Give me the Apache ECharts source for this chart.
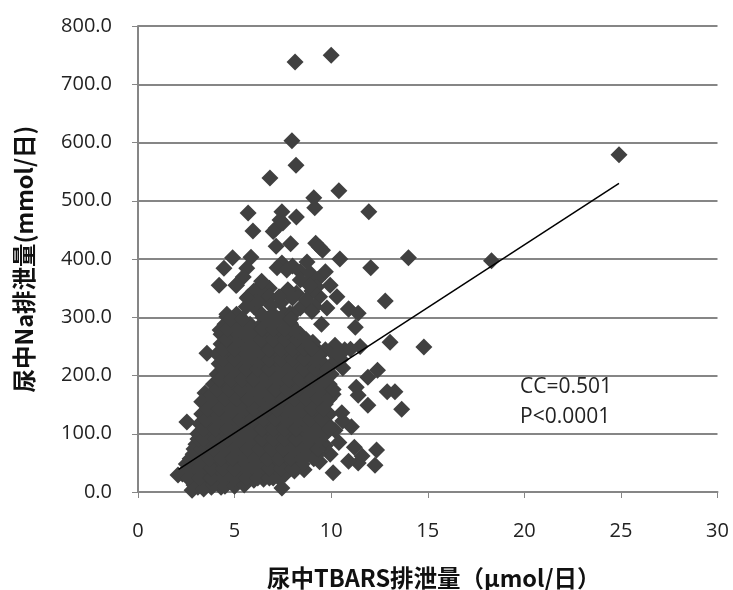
<!DOCTYPE html>
<html>
<head>
<meta charset="utf-8">
<script src="https://cdn.jsdelivr.net/npm/echarts@6/dist/echarts.min.js"></script>
<style>html,body{margin:0;padding:0;background:#fff}#c{width:733px;height:590px}</style>
</head>
<body>
<div id="c"></div>
<script>
const xAxisTitle = '尿中TBARS排泄量（μmol/日）';
const yAxisTitle = '尿中Na排泄量(mmol/日)';
const notes = ['CC=0.501', 'P<0.0001'];
const trendLine = [[2.1, 39], [24.9, 530]];

const outliers = [
  [8.13,738],[10.0,750],[7.97,603],[8.18,561],[6.83,539],[10.4,517],[9.1,505],[9.15,488],
  [11.95,481],[5.7,479],[7.45,481],[8.2,472],[5.95,448],[7.35,467],[7.15,453],[7.5,462],[7.0,447],
  [7.15,422],[7.9,426],[9.2,427],[9.55,415],[9.4,420],[10.45,400],[14.0,402],[18.3,397],[24.9,579],
  [12.05,385],[12.8,328],[14.8,249],[13.05,257],[12.9,172],[13.3,172],[13.65,142],[11.9,197],[12.4,209],
  [11.3,180],[11.4,166],[11.9,149],[10.9,314],[11.4,307],[11.25,283],[9.5,288],[11.5,250],[7.45,7]
];
const upperCluster = [
  [4.9,402],[4.45,384],[4.2,355],[5.07,355],[5.85,403],[5.63,384],[5.45,369],[6.3,352],[6.8,350],[5.7,335],
  [6.6,337],[7.45,393],[7.2,385],[7.7,381],[8.0,388],[8.75,395],[8.4,378],[8.9,376],[9.7,378],[9.3,365],[9.95,355],
  [7.87,343],[8.2,341],[9.4,335],[10.3,335],[8.4,364],[8.75,359],[9.25,352],[9.0,345],
  [5.1,355],[6.0,345],[7.76,347],[8.4,316],[9.16,318],[9.78,316],[8.0,333],[6.3,333],[5.65,333],[6.0,318],
  [4.6,301],[5.3,293],[4.25,278],[4.8,278],[5.5,275],[6.47,300],[7.87,307],[7.87,290],[8.9,355],[10.9,314],
  [3.57,238],[3.47,170],[3.3,155],[2.53,120],[2.07,29],[2.8,3],
  [6.2,347],[6.2,325],[6.8,335],[7.4,325],[8.7,330],[9.0,310],[5.6,318],[6.9,320],[7.3,335],[6.4,362]
];
const rightCluster = [
  [10.2,252],[9.7,244],[10.7,244],[9.4,240],[10.2,235],[9.05,257],[10.6,213],[11.0,245],[10.5,228],
  [10.55,136],[11.05,112],[11.2,77],[12.35,72],[12.27,46],[11.4,50],[10.9,53],[10.1,33],[9.95,65],
  [9.4,52],[10.2,106],[10.6,122],[10.4,85],[11.6,62],[9.7,80]
];
const mainBlob = [
  [3.1,8],[3.8,8],[4.3,8],[3.2,17],[3.8,17],[4.4,17],[5.0,17],[5.6,17],
  [2.9,12],[3.4,5],[3.9,12],[4.5,10],[5.0,10],[5.5,12],[6.0,20],[6.5,22],[7.0,24],[7.6,30],[8.1,36],[8.6,38],
  [2.3,31],[2.9,31],[3.5,31],[4.1,31],[4.7,31],[5.3,31],[5.9,31],[6.5,31],[7.1,31],[7.6,31],
  [2.5,48],[3.1,48],[3.7,48],[4.3,48],[4.9,48],[5.5,48],[6.1,48],[6.7,48],[7.3,48],[7.9,48],[8.5,48],
  [2.85,65],[3.4,65],[4.0,65],[4.6,65],[5.2,65],[5.8,65],[6.4,65],[7.0,65],[7.6,65],[8.2,65],[8.8,65],[9.3,65],
  [3.0,82],[3.6,82],[4.2,82],[4.8,82],[5.4,82],[6.0,82],[6.6,82],[7.2,82],[7.8,82],[8.4,82],[9.0,82],[9.5,82],
  [3.1,100],[3.7,100],[4.3,100],[4.9,100],[5.5,100],[6.1,100],[6.7,100],[7.3,100],[7.9,100],[8.5,100],[9.1,100],[9.7,100],
  [3.2,117],[3.8,117],[4.4,117],[5.0,117],[5.6,117],[6.2,117],[6.8,117],[7.4,117],[8.0,117],[8.6,117],[9.2,117],[9.8,117],
  [3.3,134],[3.9,134],[4.5,134],[5.1,134],[5.7,134],[6.3,134],[6.9,134],[7.5,134],[8.1,134],[8.7,134],[9.3,134],[9.9,134],
  [3.6,151],[4.2,151],[4.8,151],[5.4,151],[6.0,151],[6.6,151],[7.2,151],[7.8,151],[8.4,151],[9.0,151],[9.7,151],
  [3.8,168],[4.4,168],[5.0,168],[5.6,168],[6.2,168],[6.8,168],[7.4,168],[8.0,168],[8.6,168],[9.2,168],[9.8,168],[10.1,168],
  [3.9,185],[4.5,185],[5.1,185],[5.7,185],[6.3,185],[6.9,185],[7.5,185],[8.1,185],[8.7,185],[9.3,185],[9.9,185],
  [4.1,202],[4.7,202],[5.3,202],[5.9,202],[6.5,202],[7.1,202],[7.7,202],[8.3,202],[8.9,202],[9.5,202],[10.0,202],
  [4.2,220],[4.8,220],[5.4,220],[6.0,220],[6.6,220],[7.2,220],[7.8,220],[8.4,220],[9.0,220],[9.6,220],[10.0,218],
  [4.1,237],[4.7,237],[5.3,237],[5.9,237],[6.5,237],[7.1,237],[7.7,237],[8.3,237],[8.9,237],[9.3,237],
  [4.3,254],[4.9,254],[5.5,254],[6.1,254],[6.7,254],[7.3,254],[7.9,254],[8.5,254],[9.0,254],
  [4.3,271],[4.9,271],[5.5,271],[6.1,271],[6.7,271],[7.3,271],[7.9,271],[8.4,271],
  [4.5,288],[5.1,288],[5.8,288],[6.4,288],[6.8,288],[7.9,288],
  [4.6,305],[5.1,305],[6.4,305],[7.0,305],[7.6,305],[8.0,305]
];
const blobInfill = [
  [2.6,24],[3.2,24],[3.8,24],[4.4,24],[5.0,24],[5.6,24],[6.2,24],[6.8,24],[7.3,24],
  [2.6,40],[3.2,40],[3.8,40],[4.4,40],[5.0,40],[5.6,40],[6.2,40],[6.8,40],[7.4,40],[8.0,40],
  [2.7,57],[3.2,57],[3.7,57],[4.3,57],[4.9,57],[5.5,57],[6.1,57],[6.7,57],[7.3,57],[7.9,57],[8.5,57],[9.1,57],
  [2.9,74],[3.3,74],[3.9,74],[4.5,74],[5.1,74],[5.7,74],[6.3,74],[6.9,74],[7.5,74],[8.1,74],[8.7,74],[9.3,74],
  [3.1,91],[3.4,91],[4.0,91],[4.6,91],[5.2,91],[5.8,91],[6.4,91],[7.0,91],[7.6,91],[8.2,91],[8.8,91],[9.4,91],
  [3.4,108],[4.0,108],[4.6,108],[5.2,108],[5.8,108],[6.4,108],[7.0,108],[7.6,108],[8.2,108],[8.8,108],[9.4,108],[9.9,108],
  [3.5,125],[4.1,125],[4.7,125],[5.3,125],[5.9,125],[6.5,125],[7.1,125],[7.7,125],[8.3,125],[8.9,125],[9.5,125],
  [3.6,142],[4.2,142],[4.8,142],[5.4,142],[6.0,142],[6.6,142],[7.2,142],[7.8,142],[8.4,142],[9.0,142],[9.6,142],
  [3.9,160],[4.5,160],[5.1,160],[5.7,160],[6.3,160],[6.9,160],[7.5,160],[8.1,160],[8.7,160],[9.3,160],[9.9,160],
  [4.1,176],[4.7,176],[5.3,176],[5.9,176],[6.5,176],[7.1,176],[7.7,176],[8.3,176],[8.9,176],[9.5,176],[10.1,176],
  [4.2,193],[4.8,193],[5.4,193],[6.0,193],[6.6,193],[7.2,193],[7.8,193],[8.4,193],[9.0,193],[9.6,193],
  [4.4,211],[5.0,211],[5.6,211],[6.2,211],[6.8,211],[7.4,211],[8.0,211],[8.6,211],[9.2,211],[9.8,211],
  [4.4,228],[5.0,228],[5.6,228],[6.2,228],[6.8,228],[7.4,228],[8.0,228],[8.6,228],[9.2,228],
  [4.4,245],[5.0,245],[5.6,245],[6.2,245],[6.8,245],[7.4,245],[8.0,245],[8.6,245],[9.0,245],
  [4.6,262],[5.2,262],[5.8,262],[6.4,262],[7.0,262],[7.6,262],[8.2,262],[8.7,262],
  [4.6,280],[5.2,280],[5.8,280],[6.4,280],[7.0,280],[7.6,280],[8.1,280],
  [4.8,297],[5.4,297],[6.7,297],[7.3,297],[7.9,297]
];
const xTicks = {min: 0, max: 30, interval: 5};
const yTicks = {min: 0, max: 800, interval: 100};

const points = outliers.concat(upperCluster, rightCluster, mainBlob, blobInfill);
const gray = '#868686', ink = '#222222', markColor = '#404040';
const font = '"Open Sans", sans-serif';
const cjk = '"Noto Sans CJK JP", sans-serif';

const chart = echarts.init(document.getElementById('c'), null, {renderer: 'canvas'});
chart.setOption({
  animation: false,
  backgroundColor: '#fff',
  grid: {left: 138, top: 26, right: 15.5, bottom: 98, containLabel: false, outerBoundsMode: 'none'},
  xAxis: {
    type: 'value', ...xTicks,
    name: xAxisTitle, nameLocation: 'middle', nameGap: 74,
    nameTextStyle: {fontFamily: cjk, fontWeight: 'bold', fontSize: 23.5, color: '#111', padding: [0, 0, 0, 12]},
    axisLine: {show: true, onZero: false, lineStyle: {color: gray, width: 2}},
    axisTick: {show: true, length: 6, lineStyle: {color: gray, width: 1}},
    axisLabel: {fontFamily: font, fontSize: 20, color: ink, margin: 29},
    splitLine: {show: false}
  },
  yAxis: {
    type: 'value', ...yTicks,
    name: yAxisTitle, nameLocation: 'middle', nameGap: 102,
    nameTextStyle: {fontFamily: cjk, fontWeight: 'bold', fontSize: 23.5, color: '#111'},
    axisLine: {show: true, onZero: false, lineStyle: {color: gray, width: 2}},
    axisTick: {show: true, length: 6, lineStyle: {color: gray, width: 1}},
    axisLabel: {fontFamily: font, fontSize: 20, color: ink, margin: 26, padding: [2, 0, 0, 0],
      formatter: v => v.toFixed(1)},
    splitLine: {show: true, lineStyle: {color: gray, width: 2}}
  },
  series: [
    {type: 'scatter', data: points, symbol: 'diamond', symbolSize: 17,
     itemStyle: {color: markColor, opacity: 1}, z: 3, silent: true, large: false},
    {type: 'line', data: trendLine, showSymbol: false, symbol: 'none',
     lineStyle: {color: '#000', width: 1.5}, z: 4, silent: true}
  ],
  graphic: notes.map((t, i) => ({
    type: 'text', left: 520, top: 377 + i * 30, z: 10,
    style: {text: t, font: '21px ' + font, fill: ink}
  }))
});
</script>
</body>
</html>
